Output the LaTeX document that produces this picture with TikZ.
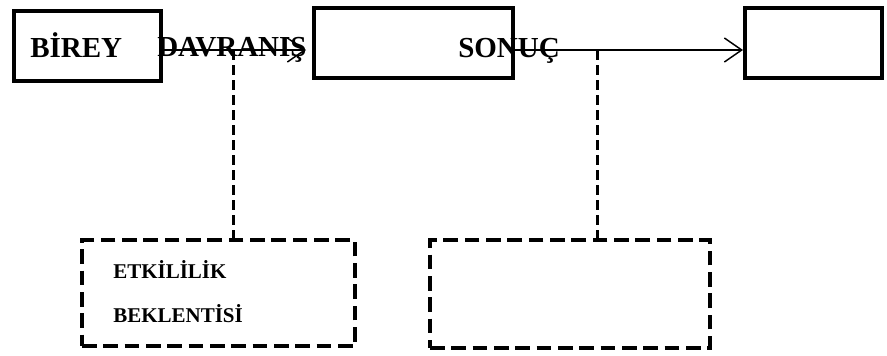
\documentclass[tikz,border=0pt]{standalone}
\usepackage{fontspec}
\setmainfont{Liberation Serif}
\usetikzlibrary{arrows.meta}
\begin{document}
\begin{tikzpicture}[x=0.75pt,y=-0.75pt,
		kutu/.style={draw, line width=3pt, inner sep=0pt},
		kesikkutu/.style={draw, line width=3pt, dash pattern=on 11pt off 5pt, inner sep=0pt},
		buyukyazi/.style={font=\bfseries\fontsize{21.75}{24}\selectfont, inner sep=0pt, anchor=base west},
		kucukyazi/.style={font=\bfseries\fontsize{15.75}{18}\selectfont, inner sep=0pt, anchor=base west},
		okcizgi/.style={line width=1.1pt, -{Straight Barb[length=13pt, width=18pt, line width=1.1pt]}},
		kesikcizgi/.style={line width=2.25pt, dash pattern=on 7.5pt off 3.75pt}]
			\useasboundingbox (0,0) rectangle (887,355);
			% ust kutular
			\node[kutu, minimum width=110.25pt, minimum height=52.5pt] (birey) at (87.5,46) {};
			\node[kutu, minimum width=149.25pt, minimum height=52.5pt] (kutu2) at (413.5,43) {};
			\node[kutu, minimum width=102.75pt, minimum height=52.5pt] (kutu3) at (813.5,43) {};
			% alt kesikli kutular
			\node[kesikkutu, minimum width=204.75pt, minimum height=79.5pt] (beklenti) at (218.5,293) {};
			\node[kesikkutu, minimum width=210pt, minimum height=81pt] (kesik2) at (570,294) {};
			% yazilar
			\node[buyukyazi] (bireyyazi) at (30,57) {BİREY};
			\node[buyukyazi] (davranis) at (157,56) {DAVRANIŞ};
			\node[buyukyazi] (sonuc) at (458,57) {SONUÇ};
			\node[kucukyazi] (etki1) at (113,278) {ETKİLİLİK};
			\node[kucukyazi] (etki2) at (113,322) {BEKLENTİSİ};
			% baglantilar
			\coordinate (yol1) at (233,50);
			\coordinate (yol2) at (597,50);
			\coordinate (ok1) at (306,50);
			\draw[okcizgi] (birey.east |- yol1) -- (ok1);
			\draw[okcizgi] (kutu2.east |- yol2) -- (kutu3.west |- yol2);
			\draw[kesikcizgi] (yol1) -- (yol1 |- beklenti.north);
			\draw[kesikcizgi] (yol2) -- (yol2 |- kesik2.north);
		\end{tikzpicture}
\end{document}
